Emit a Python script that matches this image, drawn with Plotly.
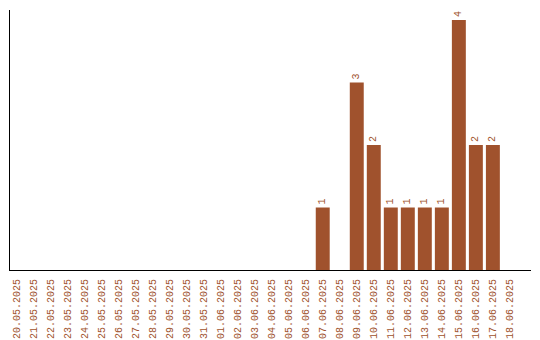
import plotly.graph_objects as go

dates = ["20.05.2025", "21.05.2025", "22.05.2025", "23.05.2025", "24.05.2025",
         "25.05.2025", "26.05.2025", "27.05.2025", "28.05.2025", "29.05.2025",
         "30.05.2025", "31.05.2025", "01.06.2025", "02.06.2025", "03.06.2025",
         "04.06.2025", "05.06.2025", "06.06.2025", "07.06.2025", "08.06.2025",
         "09.06.2025", "10.06.2025", "11.06.2025", "12.06.2025", "13.06.2025",
         "14.06.2025", "15.06.2025", "16.06.2025", "17.06.2025", "18.06.2025"]
counts = [0, 0, 0, 0, 0, 0, 0, 0, 0, 0,
          0, 0, 0, 0, 0, 0, 0, 0, 1, 0,
          3, 2, 1, 1, 1, 1, 4, 2, 2, 0]

COLOR = "#A0522D"
FONT = "Liberation Mono"

labels = [str(v) if v > 0 else "" for v in counts]

fig = go.Figure(go.Bar(
    x=dates, y=counts,
    marker=dict(color=COLOR, line=dict(width=0)),
    text=labels, textposition="outside", textangle=-90,
    textfont=dict(family=FONT, size=10, color=COLOR),
    cliponaxis=False,
))

fig.update_layout(
    width=540, height=340,
    margin=dict(l=10, r=9, t=10, b=70),
    paper_bgcolor="white", plot_bgcolor="white",
    bargap=0.18,
    showlegend=False,
    font=dict(family=FONT, size=10, color=COLOR),
    xaxis=dict(
        type="category", range=[-0.38, 30.24],
        showline=True, linecolor="black", linewidth=1,
        showgrid=False, ticks="", tickangle=-90,
        tickfont=dict(family=FONT, size=10, color=COLOR),
        zeroline=False, automargin=False, ticklabelstandoff=4,
    ),
    yaxis=dict(
        range=[0, 4.16],
        showline=True, linecolor="black", linewidth=1,
        showgrid=False, showticklabels=False, ticks="",
        zeroline=False, automargin=False,
    ),
)

fig.write_html("out.html")
